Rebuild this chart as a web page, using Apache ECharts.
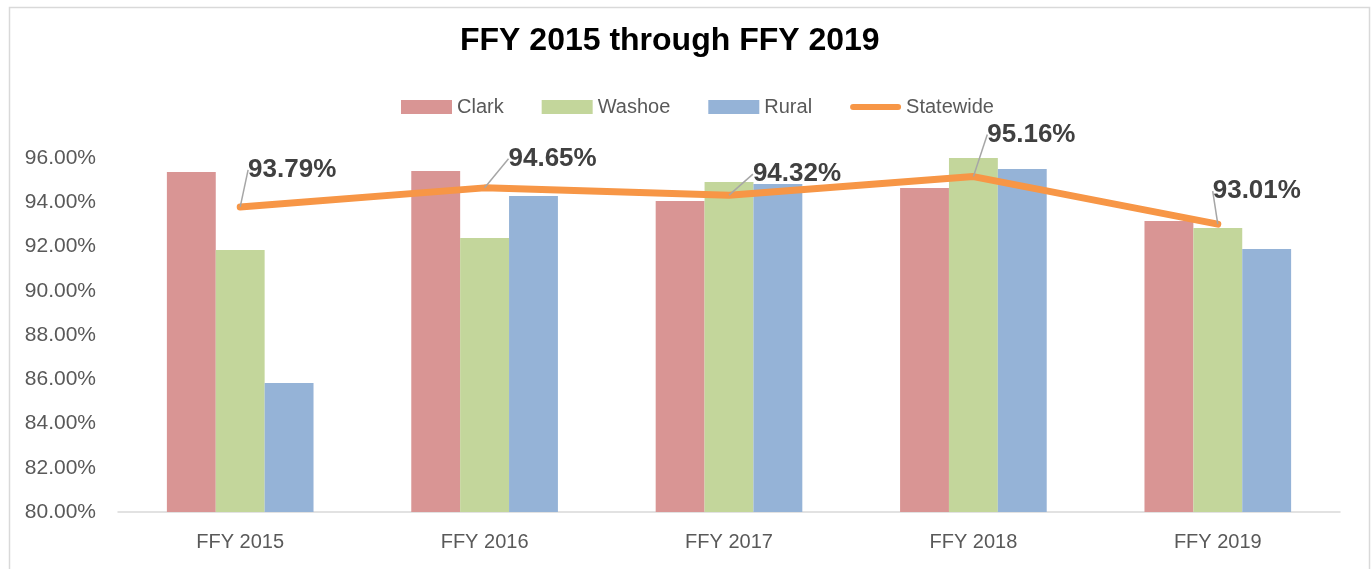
<!DOCTYPE html>
<html>
<head>
<meta charset="utf-8">
<script src="https://cdn.jsdelivr.net/npm/echarts@6/dist/echarts.min.js"></script>
<style>
  html, body { margin: 0; padding: 0; background: #fff; }
  #chart { width: 1372px; height: 569px; }
</style>
</head>
<body>
<div id="chart"></div>
<script>
// data (percent)
var categories = ["FFY 2015", "FFY 2016", "FFY 2017", "FFY 2018", "FFY 2019"];
var clark = [95.37, 95.41, 94.06, 94.64, 93.15];
var washoe = [91.84, 92.38, 94.92, 96.0, 92.84];
var rural = [85.83, 94.28, 94.82, 95.5, 91.89];
var statewide = [93.79, 94.65, 94.32, 95.16, 93.01];
var yTicks = [80, 82, 84, 86, 88, 90, 92, 94, 96];

// label offsets for the statewide callouts
var labelShift = [[52, -24], [68, -16], [68, -8], [58, -29], [39, -20]];

var colors = ["#D99594", "#C3D69B", "#95B3D7", "#F79646"];
var txt = "#595959";

var myChart = echarts.init(document.getElementById("chart"));

function barSeries(name, data, color) {
  return {
    name: name,
    type: "bar",
    data: data,
    barGap: "0%",
    barCategoryGap: "40%",
    itemStyle: { color: color },
    z: 2
  };
}

myChart.setOption({
  animation: false,
  textStyle: { fontFamily: "Liberation Sans" },
  title: {
    text: "FFY 2015 through FFY 2019",
    left: 455,
    top: 20,
    textStyle: { fontSize: 32, fontWeight: "bold", color: "#000", fontFamily: "Liberation Sans" }
  },
  legend: {
    top: 92,
    left: 396,
    itemWidth: 51,
    itemHeight: 14,
    itemGap: 38,
    textStyle: { fontSize: 20, color: txt, fontFamily: "Liberation Sans" },
    data: [
      { name: "Clark", icon: "rect" },
      { name: "Washoe", icon: "rect" },
      { name: "Rural", icon: "rect" },
      { name: "Statewide", icon: "path://M6,0 H94 A6,6 0 0 1 94,12 H6 A6,6 0 0 1 6,0 Z" }
    ]
  },
  graphic: [{
    type: "rect",
    left: 7,
    top: 5,
    shape: { width: 1360, height: 570 },
    style: { fill: "none", stroke: "#D9D9D9", lineWidth: 1.5 },
    silent: true
  }],
  grid: { left: 118, right: 32, top: 158, bottom: 57 },
  xAxis: {
    type: "category",
    data: categories,
    axisLine: { lineStyle: { color: "#D9D9D9", width: 1.5 } },
    axisTick: { show: false },
    axisLabel: { fontSize: 20, color: txt, margin: 20 }
  },
  yAxis: {
    type: "value",
    min: yTicks[0],
    max: yTicks[yTicks.length - 1],
    interval: 2,
    splitLine: { show: false },
    axisLine: { show: false },
    axisTick: { show: false },
    axisLabel: {
      fontSize: 21,
      color: txt,
      margin: 22,
      formatter: function (v) { return v.toFixed(2) + "%"; }
    }
  },
  series: [
    barSeries("Clark", clark, colors[0]),
    barSeries("Washoe", washoe, colors[1]),
    barSeries("Rural", rural, colors[2]),
    {
      name: "Statewide",
      type: "line",
      data: statewide,
      symbol: "circle",
      symbolSize: 0.1,
      showSymbol: true,
      z: 5,
      lineStyle: { color: colors[3], width: 7, cap: "round", join: "round" },
      itemStyle: { color: colors[3] },
      label: {
        show: true,
        position: "top",
        distance: 0,
        fontSize: 26,
        fontWeight: "bold",
        color: "#404040",
        fontFamily: "Liberation Sans",
        formatter: function (p) { return p.value.toFixed(2) + "%"; }
      },
      labelLine: { show: true, lineStyle: { color: "#A6A6A6", width: 1.5 } },
      labelLayout: function (p) {
        var s = labelShift[p.dataIndex];
        return { dx: s[0], dy: s[1] };
      }
    }
  ]
});
</script>
</body>
</html>
